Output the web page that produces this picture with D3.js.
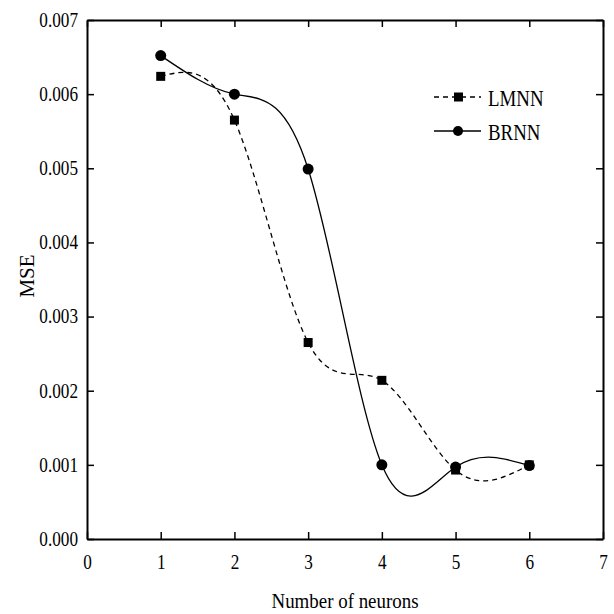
<!DOCTYPE html>
<html>
<head>
<meta charset="utf-8">
<script src="https://cdn.jsdelivr.net/npm/d3@7.9.0/dist/d3.min.js"></script>
<style>
  body { margin: 0; background: #fff; }
  svg { display: block; }
  svg text { font-family: "Liberation Serif", "Times New Roman", serif; fill: #000; }
</style>
</head>
<body>
<svg id="chart" width="614" height="614"></svg>
<script>
// ---------- Data ----------
const neurons = [1, 2, 3, 4, 5, 6];
const lmnn = [0.00624, 0.00565, 0.00265, 0.00214, 0.00093, 0.00100];
const brnn = [0.00652, 0.00600, 0.00499, 0.00100, 0.00097, 0.00099];
const xTicks = [0, 1, 2, 3, 4, 5, 6, 7];
const yTicks = [0, 0.001, 0.002, 0.003, 0.004, 0.005, 0.006, 0.007];
const seriesNames = ['LMNN', 'BRNN'];

// ---------- Layout ----------
const svg = d3.select('#chart');
const plot = { left: 87, right: 603, top: 20, bottom: 539 };
const tickLen = 7;
const squeeze = 0.86; // the reference text is narrow, like condensed Times

const x = d3.scaleLinear().domain([0, 7]).range([plot.left, plot.right]);
const y = d3.scaleLinear().domain([0, 0.007]).range([plot.bottom, plot.top]);

// Axes (ticks point inward on all four sides)
const styleAxis = (g) => {
  g.attr('font-family', null).attr('font-size', null);
  g.select('.domain').attr('stroke', '#000').attr('stroke-width', 2);
  g.selectAll('.tick line').attr('stroke', '#000').attr('stroke-width', 1.5);
  g.selectAll('.tick text').style('font-size', '20px');
};

svg.append('g')
  .attr('transform', `translate(0,${plot.bottom})`)
  .call(d3.axisBottom(x).tickValues(xTicks).tickFormat(d3.format('d'))
    .tickSizeInner(-tickLen).tickSizeOuter(0))
  .call(styleAxis)
  .call((g) => g.selectAll('.tick text')
    .attr('y', 0).attr('dy', null)
    .attr('transform', `translate(0,30) scale(${squeeze},1)`));

svg.append('g')
  .attr('transform', `translate(0,${plot.top})`)
  .call(d3.axisTop(x).tickValues(xTicks).tickFormat('')
    .tickSizeInner(-tickLen).tickSizeOuter(0))
  .call(styleAxis);

svg.append('g')
  .attr('transform', `translate(${plot.left},0)`)
  .call(d3.axisLeft(y).tickValues(yTicks).tickFormat(d3.format('.3f'))
    .tickSizeInner(-tickLen).tickSizeOuter(0))
  .call(styleAxis)
  .call((g) => g.selectAll('.tick text')
    .attr('x', 0)
    .attr('transform', `translate(-9,0) scale(${squeeze},1)`));

svg.append('g')
  .attr('transform', `translate(${plot.right},0)`)
  .call(d3.axisRight(y).tickValues(yTicks).tickFormat('')
    .tickSizeInner(-tickLen).tickSizeOuter(0))
  .call(styleAxis);

// Axis titles
svg.append('text')
  .attr('transform', `translate(${(plot.left + plot.right) / 2},608) scale(${squeeze},1)`)
  .attr('text-anchor', 'middle')
  .style('font-size', '22px')
  .text('Number of neurons');

svg.append('text')
  .attr('transform', `translate(34,276) rotate(-90)`)
  .attr('text-anchor', 'middle')
  .style('font-size', '21px')
  .text('MSE');

// ---------- Series ----------
const line = d3.line()
  .x((d) => x(d[0]))
  .y((d) => y(d[1]))
  .curve(d3.curveNatural);

const lmnnPts = neurons.map((n, i) => [n, lmnn[i]]);
const brnnPts = neurons.map((n, i) => [n, brnn[i]]);

svg.append('path')
  .datum(lmnnPts)
  .attr('d', line)
  .attr('fill', 'none')
  .attr('stroke', '#000')
  .attr('stroke-width', 1.3)
  .attr('stroke-dasharray', '5,4');

svg.append('path')
  .datum(brnnPts)
  .attr('d', line)
  .attr('fill', 'none')
  .attr('stroke', '#000')
  .attr('stroke-width', 1.3);

svg.append('g').selectAll('rect')
  .data(lmnnPts)
  .join('rect')
  .attr('x', (d) => x(d[0]) - 4.5)
  .attr('y', (d) => y(d[1]) - 4.5)
  .attr('width', 9)
  .attr('height', 9)
  .attr('fill', '#000');

svg.append('g').selectAll('circle')
  .data(brnnPts)
  .join('circle')
  .attr('cx', (d) => x(d[0]))
  .attr('cy', (d) => y(d[1]))
  .attr('r', 5.5)
  .attr('fill', '#000');

// ---------- Legend ----------
const legend = svg.append('g').attr('transform', 'translate(434,97)');
seriesNames.forEach((name, i) => {
  const g = legend.append('g').attr('transform', `translate(0,${i * 34})`);
  g.append('line')
    .attr('x1', 0).attr('x2', 47).attr('y1', 0).attr('y2', 0)
    .attr('stroke', '#000').attr('stroke-width', 1.3)
    .attr('stroke-dasharray', i === 0 ? '5,4' : null);
  if (i === 0) {
    g.append('rect').attr('x', 20).attr('y', -4.5).attr('width', 9).attr('height', 9).attr('fill', '#000');
  } else {
    g.append('circle').attr('cx', 24).attr('cy', 0).attr('r', 5).attr('fill', '#000');
  }
  g.append('text')
    .attr('transform', `translate(54,9) scale(0.82,1)`)
    .style('font-size', '23px')
    .text(name);
});
</script>
</body>
</html>
